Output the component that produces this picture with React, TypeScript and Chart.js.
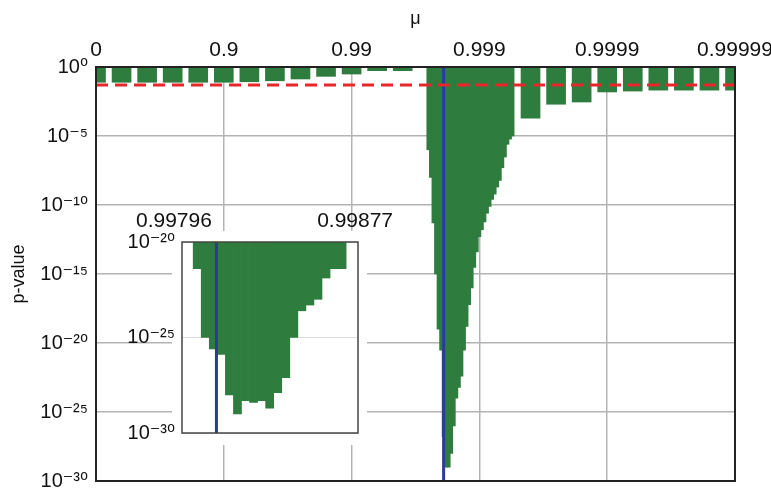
import React, { useEffect, useRef } from 'react';
import { Chart, registerables } from 'chart.js';

Chart.register(...registerables);

// ---------- data ----------
// main x axis: position = -log10(1 - μ)
const xTickPositions = [0, 1, 2, 3, 4, 5];
const xTickLabels = ['0', '0.9', '0.99', '0.999', '0.9999', '0.99999'];
const yTickExponents = [0, -5, -10, -15, -20, -25, -30];

const coarseX = [0, 0.2, 0.4, 0.6, 0.8, 1.0, 1.2, 1.4, 1.6, 1.8, 2.0, 2.2, 2.4, 3.4, 3.6, 3.8, 4.0, 4.2, 4.4, 4.6, 4.8, 5.0];
const coarseP = [0.078, 0.078, 0.078, 0.078, 0.078, 0.078, 0.085, 0.1, 0.135, 0.21, 0.31, 0.54, 0.54, 2e-4, 2e-3, 2.9e-3, 0.0155, 0.018, 0.021, 0.021, 0.021, 0.021];

const fineX = [2.60, 2.62, 2.64, 2.66, 2.68, 2.70, 2.72, 2.74, 2.76, 2.78, 2.80, 2.82, 2.84, 2.86, 2.88, 2.90, 2.92, 2.94, 2.96, 2.98, 3.00, 3.02, 3.04, 3.06, 3.08, 3.10, 3.12, 3.14, 3.16, 3.18, 3.20, 3.22, 3.24, 3.26];
const fineP = [1e-6, 1e-8, 5e-12, 1e-15, 1e-19, 3e-21, 1.6e-27, 1e-29, 1e-29, 1e-28, 1e-26, 1e-24, 6e-24, 4e-23, 3e-21, 1.6e-19, 6e-18, 1e-16, 3e-15, 4e-14, 5e-13, 1.6e-12, 6e-12, 2.5e-11, 8e-11, 2.5e-10, 6e-10, 2e-9, 6e-9, 5e-8, 3e-7, 2.5e-6, 6e-6, 1e-5];

const significance = 0.05;
const muStarMain = 2.72;

// inset (linear μ axis)
const insetMu = [0.998064, 0.9981, 0.998136, 0.998172, 0.998208, 0.998244, 0.99828, 0.998316, 0.998352, 0.998388, 0.998424, 0.99846, 0.998496, 0.998532, 0.998568, 0.998604, 0.99864, 0.998676, 0.998712];
const insetP = [4e-22, 1e-25, 2.5e-26, 1.3e-26, 1e-28, 1e-29, 5e-29, 4e-29, 5e-29, 2e-29, 1.3e-28, 8e-28, 1e-25, 2.5e-24, 5e-24, 1e-23, 1.3e-22, 4e-22, 4e-22];
const insetTickValues = [0.99796, 0.99877];
const insetTickLabels = ['0.99796', '0.99877'];
const insetExponents = [-20, -25, -30];
const insetMuStar = 0.99815;

// ---------- styling ----------
const FONT = "'Liberation Sans', Arial, 'DejaVu Sans', sans-serif";
const GREEN = '#2f7d3e';
const RED = '#e8272a';
const BLUE = '#2b3a9b';
const GRID = '#b3b3b3';
const TEXT = '#111';

const SUP: Record<string, string> = {
  '0': '⁰', '1': '¹', '2': '²', '3': '³', '4': '⁴', '5': '⁵', '6': '⁶', '7': '⁷', '8': '⁸', '9': '⁹', '-': '⁻',
};
const pow10Label = (e: number) => '10' + String(e).split('').map((c) => SUP[c]).join('');

const fixSize = (w?: number, h?: number) => (s: any) => {
  if (w !== undefined) s.width = w;
  if (h !== undefined) s.height = h;
  s.paddingLeft = 0;
  s.paddingRight = 0;
  s.paddingTop = 0;
  s.paddingBottom = 0;
};

const framePlugin = {
  id: 'frame',
  afterDatasetsDraw(chart: any, _args: any, opts: any) {
    const { ctx, chartArea: a } = chart;
    ctx.save();
    ctx.strokeStyle = opts.color || '#222';
    ctx.lineWidth = opts.width || 2;
    ctx.strokeRect(a.left, a.top, a.right - a.left, a.bottom - a.top);
    ctx.restore();
  },
};

function mainConfig(): any {
  return {
    type: 'bar',
    data: {
      datasets: [
        {
          type: 'line',
          data: [{ x: 0, y: significance }, { x: 5, y: significance }],
          borderColor: RED,
          borderWidth: 3,
          borderDash: [12, 7],
          pointRadius: 0,
          order: 0,
        },
        {
          type: 'line',
          data: [{ x: muStarMain, y: 1 }, { x: muStarMain, y: 1e-30 }],
          borderColor: BLUE,
          borderWidth: 3,
          pointRadius: 0,
          order: 1,
        },
        {
          type: 'bar',
          data: fineX.map((x, i) => ({ x, y: [fineP[i], 1] })),
          backgroundColor: GREEN,
          barThickness: 3,
          grouped: false,
          borderWidth: 0,
          order: 2,
        },
        {
          type: 'bar',
          data: coarseX.map((x, i) => ({ x, y: [coarseP[i], 1] })),
          backgroundColor: GREEN,
          barThickness: 19,
          grouped: false,
          borderWidth: 0,
          order: 3,
        },
      ],
    },
    options: {
      animation: false,
      responsive: false,
      events: [],
      layout: { padding: { left: 0, top: 0, right: 36, bottom: 7 } },
      plugins: {
        legend: { display: false },
        tooltip: { enabled: false },
        frame: { color: '#222', width: 2 },
      },
      scales: {
        x: {
          type: 'linear',
          position: 'top',
          min: 0,
          max: 5,
          offset: false,
          afterFit: fixSize(undefined, 67),
          afterBuildTicks: (s: any) => { s.ticks = xTickPositions.map((v) => ({ value: v })); },
          ticks: {
            autoSkip: false,
            maxRotation: 0,
            padding: 4,
            color: TEXT,
            font: { family: FONT, size: 21 },
            callback: (_v: any, i: number) => xTickLabels[i],
          },
          grid: { color: GRID, lineWidth: 1.5, drawTicks: false, offset: false },
          border: { display: false },
          title: { display: true, text: 'μ', color: TEXT, font: { family: FONT, size: 18 }, padding: { top: 8, bottom: 0 } },
        },
        y: {
          type: 'logarithmic',
          min: 1e-30,
          max: 1,
          afterFit: fixSize(96, undefined),
          afterBuildTicks: (s: any) => { s.ticks = yTickExponents.map((e) => ({ value: Number('1e' + e) })); },
          ticks: {
            autoSkip: false,
            padding: 8,
            color: TEXT,
            font: { family: FONT, size: 20 },
            callback: (v: any) => pow10Label(Math.round(Math.log10(Number(v)))),
          },
          grid: { color: GRID, lineWidth: 1.5, drawTicks: false },
          border: { display: false },
          title: { display: true, text: 'p-value', color: TEXT, font: { family: FONT, size: 18 }, padding: { top: 8, bottom: 0 } },
        },
      },
    },
    plugins: [framePlugin],
  };
}

function insetConfig(): any {
  return {
    type: 'bar',
    data: {
      datasets: [
        {
          type: 'line',
          data: [{ x: insetMuStar, y: 1e-20 }, { x: insetMuStar, y: 1e-30 }],
          borderColor: BLUE,
          borderWidth: 3,
          pointRadius: 0,
          order: 0,
        },
        {
          type: 'bar',
          data: insetMu.map((x, i) => ({ x, y: [insetP[i], 1e-20] })),
          backgroundColor: GREEN,
          categoryPercentage: 1,
          barPercentage: 1,
          borderWidth: 0,
          order: 1,
        },
      ],
    },
    options: {
      animation: false,
      responsive: false,
      events: [],
      layout: { padding: { left: 0, top: 0, right: 42, bottom: 17 } },
      plugins: {
        legend: { display: false },
        tooltip: { enabled: false },
        frame: { color: '#444', width: 1.5 },
      },
      scales: {
        x: {
          type: 'linear',
          position: 'top',
          min: 0.997996,
          max: 0.998783,
          offset: false,
          afterFit: fixSize(undefined, 47),
          afterBuildTicks: (s: any) => { s.ticks = insetTickValues.map((v) => ({ value: v })); },
          ticks: {
            autoSkip: false,
            maxRotation: 0,
            padding: 0,
            color: TEXT,
            font: { family: FONT, size: 21 },
            callback: (_v: any, i: number) => insetTickLabels[i],
          },
          grid: { display: false, offset: false },
          border: { display: false },
        },
        y: {
          type: 'logarithmic',
          min: 1e-30,
          max: 1e-20,
          afterFit: fixSize(82, undefined),
          afterBuildTicks: (s: any) => { s.ticks = insetExponents.map((e) => ({ value: Number('1e' + e) })); },
          ticks: {
            autoSkip: false,
            padding: 7,
            color: TEXT,
            font: { family: FONT, size: 20 },
            callback: (v: any) => pow10Label(Math.round(Math.log10(Number(v)))),
          },
          grid: { color: '#dcdcdc', lineWidth: 1, drawTicks: false },
          border: { display: false },
        },
      },
    },
    plugins: [framePlugin],
  };
}

export default function App() {
  const mainRef = useRef<HTMLCanvasElement>(null);
  const insetRef = useRef<HTMLCanvasElement>(null);

  useEffect(() => {
    const main = new Chart(mainRef.current as HTMLCanvasElement, mainConfig());
    const inset = new Chart(insetRef.current as HTMLCanvasElement, insetConfig());
    return () => {
      main.destroy();
      inset.destroy();
    };
  }, []);

  return (
    <div style={{ position: 'absolute', left: 0, top: 0, width: 771, height: 488, background: '#fff', overflow: 'hidden' }}>
      <canvas ref={mainRef} width={771} height={488} style={{ position: 'absolute', left: 0, top: 0 }} />
      <div style={{ position: 'absolute', left: 172, top: 231, width: 195, height: 214, background: '#fff' }} />
      <canvas ref={insetRef} width={300} height={255} style={{ position: 'absolute', left: 100, top: 195 }} />
    </div>
  );
}
